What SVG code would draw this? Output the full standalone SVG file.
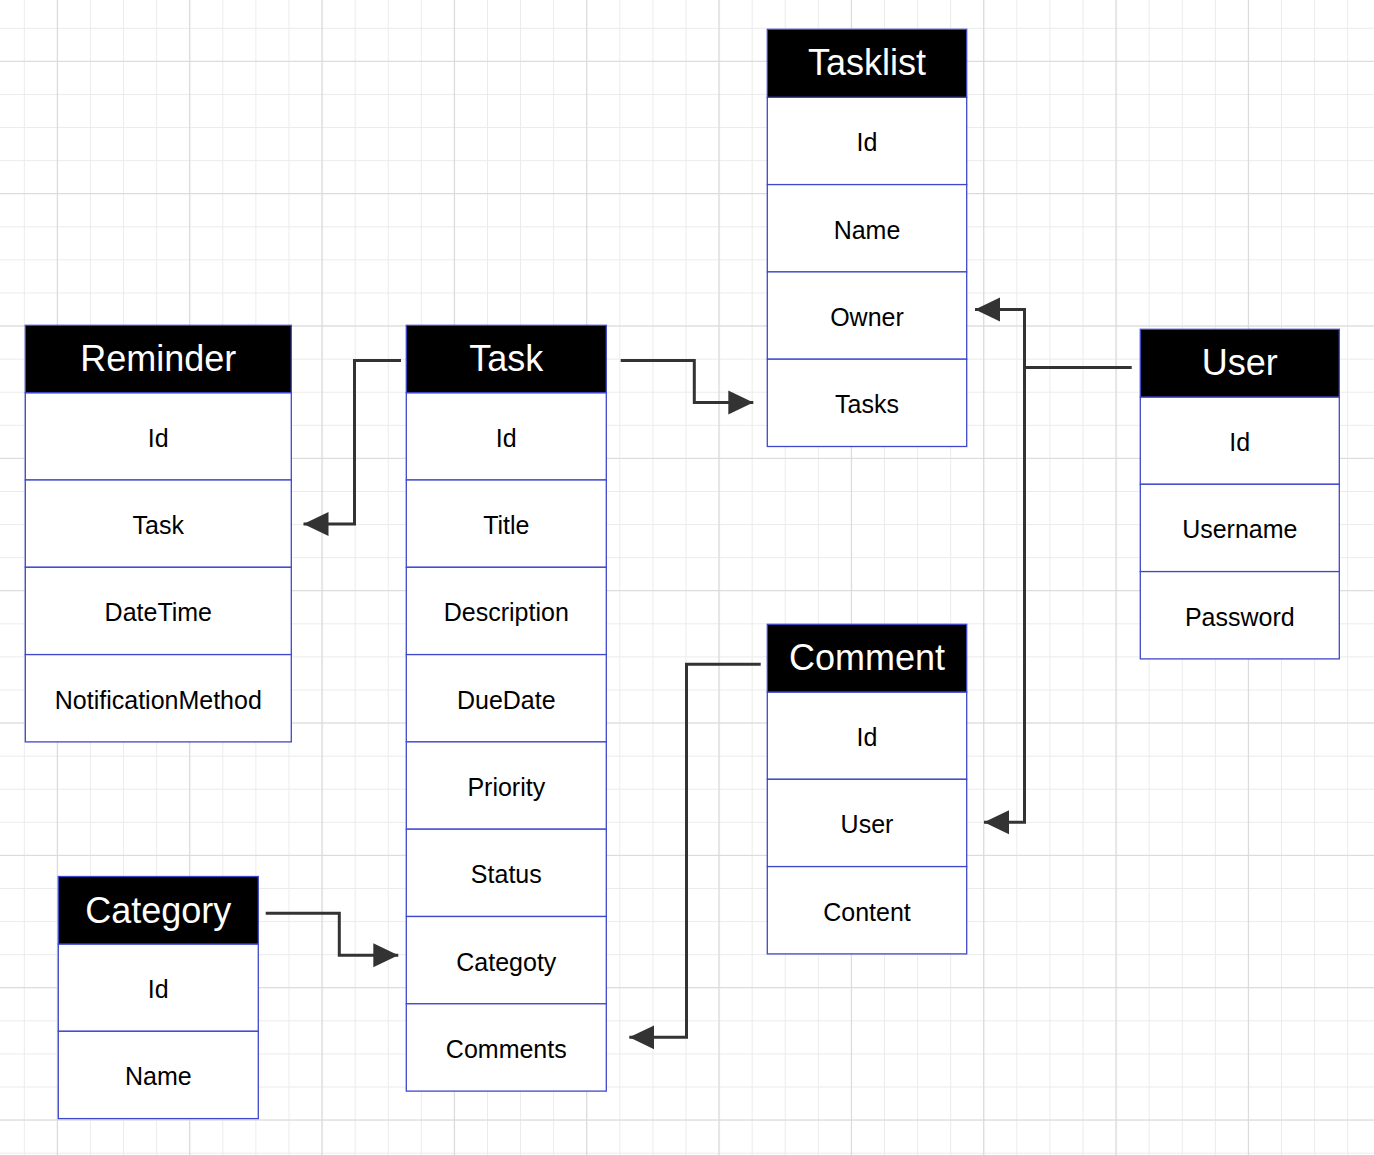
<svg xmlns="http://www.w3.org/2000/svg" width="1374" height="1155" viewBox="0 0 1374 1155">
<defs>
<pattern id="minor" patternUnits="userSpaceOnUse" x="23.8" y="27.8" width="33.085" height="33.085">
<path d="M0.5,0 V33.085 M0,0.5 H33.085" stroke="#ebebeb" stroke-width="1" fill="none"/>
</pattern>
<pattern id="major" patternUnits="userSpaceOnUse" x="56.8" y="60.8" width="132.34" height="132.34">
<path d="M0.5,0 V132.34 M0,0.5 H132.34" stroke="#d9d9d9" stroke-width="1.2" fill="none"/>
</pattern>
<marker id="arr" markerUnits="userSpaceOnUse" markerWidth="26" markerHeight="26" refX="25" refY="12.5" orient="auto">
<path d="M0,0.5 L25,12.5 L0,24.5 z" fill="#333333"/>
</marker>
<style>
.hd{fill:#000000;stroke:#3f48cc;stroke-width:1.3}
.rw{fill:#ffffff;stroke:#3f48cc;stroke-width:1.3}
.ht{font-family:"Liberation Sans",Arial,sans-serif;font-size:36px;fill:#ffffff;text-anchor:middle}
.rt{font-family:"Liberation Sans",Arial,sans-serif;font-size:25px;fill:#000000;text-anchor:middle}
.cn{fill:none;stroke:#333333;stroke-width:3;stroke-linejoin:miter;marker-end:url(#arr)}
</style>
</defs>
<rect width="1374" height="1155" fill="#ffffff"/>
<rect width="1374" height="1155" fill="url(#minor)"/>
<rect width="1374" height="1155" fill="url(#major)"/>

<g id="tasklist">
<rect class="rw" x="767.3" y="97.3" width="199.4" height="87.3"/>
<rect class="rw" x="767.3" y="184.6" width="199.4" height="87.3"/>
<rect class="rw" x="767.3" y="271.9" width="199.4" height="87.3"/>
<rect class="rw" x="767.3" y="359.2" width="199.4" height="87.3"/>
<rect class="hd" x="767.3" y="29.3" width="199.4" height="68"/>
<text class="ht" x="867" y="75">Tasklist</text>
<text class="rt" x="867" y="151.3">Id</text>
<text class="rt" x="867" y="238.6">Name</text>
<text class="rt" x="867" y="325.9">Owner</text>
<text class="rt" x="867" y="413.2">Tasks</text>
</g>

<g id="reminder">
<rect class="rw" x="25.3" y="392.7" width="266" height="87.3"/>
<rect class="rw" x="25.3" y="480" width="266" height="87.3"/>
<rect class="rw" x="25.3" y="567.3" width="266" height="87.3"/>
<rect class="rw" x="25.3" y="654.6" width="266" height="87.3"/>
<rect class="hd" x="25.3" y="325.3" width="266" height="67.4"/>
<text class="ht" x="158.3" y="371">Reminder</text>
<text class="rt" x="158.3" y="446.8">Id</text>
<text class="rt" x="158.3" y="534.1">Task</text>
<text class="rt" x="158.3" y="621.4">DateTime</text>
<text class="rt" x="158.3" y="708.7">NotificationMethod</text>
</g>

<g id="task">
<rect class="rw" x="406.3" y="392.7" width="200" height="87.3"/>
<rect class="rw" x="406.3" y="480" width="200" height="87.3"/>
<rect class="rw" x="406.3" y="567.3" width="200" height="87.3"/>
<rect class="rw" x="406.3" y="654.6" width="200" height="87.3"/>
<rect class="rw" x="406.3" y="741.9" width="200" height="87.3"/>
<rect class="rw" x="406.3" y="829.2" width="200" height="87.3"/>
<rect class="rw" x="406.3" y="916.5" width="200" height="87.3"/>
<rect class="rw" x="406.3" y="1003.8" width="200" height="87.3"/>
<rect class="hd" x="406.3" y="325.3" width="200" height="67.4"/>
<text class="ht" x="506.3" y="371">Task</text>
<text class="rt" x="506.3" y="446.8">Id</text>
<text class="rt" x="506.3" y="534.1">Title</text>
<text class="rt" x="506.3" y="621.4">Description</text>
<text class="rt" x="506.3" y="708.7">DueDate</text>
<text class="rt" x="506.3" y="796">Priority</text>
<text class="rt" x="506.3" y="883.3">Status</text>
<text class="rt" x="506.3" y="970.6">Categoty</text>
<text class="rt" x="506.3" y="1057.9">Comments</text>
</g>

<g id="user">
<rect class="rw" x="1140.3" y="397" width="199" height="87.3"/>
<rect class="rw" x="1140.3" y="484.3" width="199" height="87.3"/>
<rect class="rw" x="1140.3" y="571.6" width="199" height="87.3"/>
<rect class="hd" x="1140.3" y="329.3" width="199" height="67.7"/>
<text class="ht" x="1239.8" y="375">User</text>
<text class="rt" x="1239.8" y="451">Id</text>
<text class="rt" x="1239.8" y="538.3">Username</text>
<text class="rt" x="1239.8" y="625.6">Password</text>
</g>

<g id="comment">
<rect class="rw" x="767.3" y="692" width="199.4" height="87.3"/>
<rect class="rw" x="767.3" y="779.3" width="199.4" height="87.3"/>
<rect class="rw" x="767.3" y="866.6" width="199.4" height="87.3"/>
<rect class="hd" x="767.3" y="624.3" width="199.4" height="67.7"/>
<text class="ht" x="867" y="670">Comment</text>
<text class="rt" x="867" y="746">Id</text>
<text class="rt" x="867" y="833.3">User</text>
<text class="rt" x="867" y="920.6">Content</text>
</g>

<g id="category">
<rect class="rw" x="58.3" y="944" width="200" height="87.3"/>
<rect class="rw" x="58.3" y="1031.3" width="200" height="87.3"/>
<rect class="hd" x="58.3" y="876.5" width="200" height="67.5"/>
<text class="ht" x="158.3" y="922.5">Category</text>
<text class="rt" x="158.3" y="998">Id</text>
<text class="rt" x="158.3" y="1085.3">Name</text>
</g>

<g id="connectors">
<path class="cn" d="M401,360.5 H354.5 V524 H303.5"/>
<path class="cn" d="M620.7,360.5 H694.3 V402.5 H753.3"/>
<path class="cn" d="M1131.7,367.5 H1024.5 V309.5 H975"/>
<path class="cn" d="M1024.5,367.5 V822.3 H984"/>
<path class="cn" d="M265.7,913.3 H339.3 V955.3 H398.3"/>
<path class="cn" d="M760.7,664.3 H686.5 V1037.3 H629.3"/>
</g>
</svg>
